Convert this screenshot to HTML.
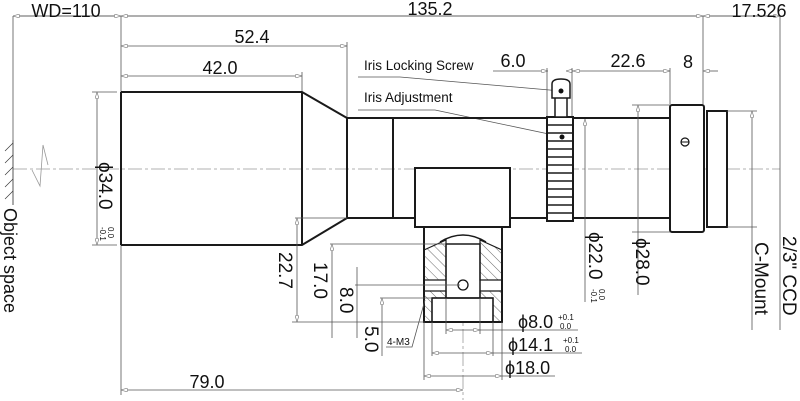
<!DOCTYPE html>
<html><head><meta charset="utf-8"><style>
html,body{margin:0;padding:0;background:#fff}
svg{display:block}
text{font-family:"Liberation Sans","DejaVu Sans",sans-serif;fill:#111}
.k{stroke:#1a1a1a;stroke-width:2;fill:none}
.t{stroke:#555;stroke-width:0.8;fill:none}
.c{stroke:#999;stroke-width:0.8;fill:none;stroke-dasharray:14 3 3 3}
.h{stroke:#333;stroke-width:0.6}
</style></head><body>
<svg width="800" height="401" viewBox="0 0 800 401" xmlns="http://www.w3.org/2000/svg">
<defs><marker id="a" viewBox="0 0 10 6" refX="10" refY="3" markerWidth="8" markerHeight="5" orient="auto-start-reverse"><path d="M0,0L10,3L0,6z" fill="#fff" stroke="#777" stroke-width="1"/></marker></defs>
<line class="c" x1="13" y1="169" x2="780" y2="169"/>
<line class="c" x1="463" y1="168" x2="463" y2="400"/>
<line class="c" x1="685" y1="125" x2="685" y2="160"/>
<line class="t" x1="13" y1="16" x2="780" y2="16"/>
<line class="t" x1="13" y1="16" x2="121" y2="16" marker-start="url(#a)" marker-end="url(#a)"/>
<line class="t" x1="121" y1="16" x2="703" y2="16" marker-start="url(#a)" marker-end="url(#a)"/>
<line class="t" x1="703" y1="16" x2="780" y2="16" marker-start="url(#a)" marker-end="url(#a)"/>
<line class="t" x1="13" y1="16" x2="13" y2="150"/>
<line class="t" x1="121" y1="16" x2="121" y2="395"/>
<line class="t" x1="703" y1="16" x2="703" y2="104"/>
<line class="t" x1="780" y1="16" x2="780" y2="330"/>
<text x="66" y="17" font-size="18" text-anchor="middle">WD=110</text>
<text x="430" y="15" font-size="18" text-anchor="middle">135.2</text>
<text x="759" y="17" font-size="18" text-anchor="middle">17.526</text>
<line class="t" x1="121" y1="46" x2="347" y2="46" marker-start="url(#a)" marker-end="url(#a)"/>
<line class="t" x1="347" y1="42" x2="347" y2="118"/>
<text x="252" y="43" font-size="18" text-anchor="middle">52.4</text>
<line class="t" x1="121" y1="76" x2="302" y2="76" marker-start="url(#a)" marker-end="url(#a)"/>
<line class="t" x1="302" y1="72" x2="302" y2="92"/>
<text x="220" y="74" font-size="18" text-anchor="middle">42.0</text>
<line class="t" x1="493" y1="71" x2="548" y2="71" marker-end="url(#a)"/>
<line class="t" x1="566" y1="71" x2="573" y2="71" marker-start="url(#a)"/>
<line class="t" x1="573" y1="71" x2="670" y2="71" marker-start="url(#a)" marker-end="url(#a)"/>
<line class="t" x1="703" y1="71" x2="718" y2="71" marker-start="url(#a)"/>
<line class="t" x1="547" y1="68" x2="547" y2="117"/>
<line class="t" x1="572" y1="68" x2="572" y2="117"/>
<line class="t" x1="670" y1="68" x2="670" y2="104"/>
<text x="513" y="67" font-size="18" text-anchor="middle">6.0</text>
<text x="628" y="67" font-size="18" text-anchor="middle">22.6</text>
<text x="688" y="68" font-size="18" text-anchor="middle">8</text>
<text x="364" y="70" font-size="13.5">Iris Locking Screw</text>
<polyline class="t" points="358,77 400,77 561,91"/>
<text x="364" y="102" font-size="13.5">Iris Adjustment</text>
<polyline class="t" points="358,110 435,110 563,137"/>
<line x1="13" y1="140" x2="13" y2="205" stroke="#555" stroke-width="1"/>
<g class="h"><line x1="13" y1="143" x2="5" y2="151"/><line x1="13" y1="155" x2="5" y2="163"/><line x1="13" y1="167" x2="5" y2="175"/><line x1="13" y1="179" x2="5" y2="187"/><line x1="13" y1="191" x2="5" y2="199"/></g>
<polyline points="32,170 40,186 43,145 48,165" fill="none" stroke="#999" stroke-width="0.8"/>
<text transform="translate(4,208) rotate(90)" font-size="18">Object space</text>
<polyline class="k" points="121,92 302,92 347,118 670,118"/>
<polyline class="k" points="121,245 302,245 347,218 670,218"/>
<line class="k" x1="121" y1="92" x2="121" y2="245"/>
<line class="k" x1="302" y1="92" x2="302" y2="245"/>
<line class="k" x1="347" y1="118" x2="347" y2="218"/>
<line class="k" x1="393" y1="118" x2="393" y2="218" stroke-width="1.5"/>
<line class="t" x1="92" y1="92" x2="117" y2="92"/>
<line class="t" x1="92" y1="245" x2="117" y2="245"/>
<line class="t" x1="97" y1="92" x2="97" y2="245" marker-start="url(#a)" marker-end="url(#a)"/>
<text transform="translate(99,162) rotate(90)" font-size="19">ϕ34.0</text>
<text transform="translate(100,227) rotate(90)" font-size="8">-0.1</text>
<text transform="translate(108,227) rotate(90)" font-size="8">0.0</text>
<rect x="547" y="117" width="26" height="104" fill="#fff" stroke="#1a1a1a" stroke-width="2"/>
<g stroke="#1a1a1a" stroke-width="1.5">
<line x1="547" y1="125" x2="573" y2="125"/><line x1="547" y1="133" x2="573" y2="133"/><line x1="547" y1="141" x2="573" y2="141"/><line x1="547" y1="149" x2="573" y2="149"/><line x1="547" y1="157" x2="573" y2="157"/><line x1="547" y1="165" x2="573" y2="165"/><line x1="547" y1="173" x2="573" y2="173"/><line x1="547" y1="181" x2="573" y2="181"/><line x1="547" y1="189" x2="573" y2="189"/><line x1="547" y1="197" x2="573" y2="197"/><line x1="547" y1="205" x2="573" y2="205"/><line x1="547" y1="213" x2="573" y2="213"/></g>
<circle cx="562" cy="137" r="2.5" fill="#111"/>
<rect x="555" y="97" width="12" height="20" fill="#fff" stroke="#1a1a1a" stroke-width="1.5"/>
<path d="M552,98 L552,84 Q552,79 561,79 Q570,79 570,84 L570,98 Z" fill="#fff" stroke="#1a1a1a" stroke-width="1.5"/>
<circle cx="561" cy="91" r="2.5" fill="#111"/>
<rect x="670" y="105" width="34" height="127" rx="2" fill="#fff" stroke="#1a1a1a" stroke-width="2"/>
<rect x="707" y="111" width="20" height="116" fill="#fff" stroke="#1a1a1a" stroke-width="2"/>
<circle cx="685" cy="142" r="4" fill="none" stroke="#111" stroke-width="1.2"/><line x1="681" y1="142" x2="689" y2="142" stroke="#111"/>
<rect x="415" y="168" width="95" height="59" fill="#fff" stroke="#1a1a1a" stroke-width="2"/>
<rect x="424" y="227" width="78" height="95" fill="#fff" stroke="#1a1a1a" stroke-width="2"/>
<defs><pattern id="hp" width="7" height="7" patternUnits="userSpaceOnUse" patternTransform="rotate(-45)"><line x1="0" y1="0" x2="0" y2="7" stroke="#444" stroke-width="0.8"/></pattern></defs>
<path d="M424,250 L446,240 L446,280 L424,280Z" fill="url(#hp)" stroke="#1a1a1a" stroke-width="1.2"/>
<path d="M480,240 L502,250 L502,280 L480,280Z" fill="url(#hp)" stroke="#1a1a1a" stroke-width="1.2"/>
<path d="M424,291 L446,291 L446,298 L432,298 L432,322 L424,322Z" fill="url(#hp)" stroke="#1a1a1a" stroke-width="1.2"/>
<path d="M480,291 L502,291 L502,322 L493,322 L493,298 L480,298Z" fill="url(#hp)" stroke="#1a1a1a" stroke-width="1.2"/>
<path d="M440,242 Q463,228 486,242" fill="none" stroke="#1a1a1a" stroke-width="1.5"/>
<rect x="446" y="244" width="34" height="54" fill="none" stroke="#1a1a1a" stroke-width="1.5"/>
<rect x="432" y="298" width="61" height="24" fill="none" stroke="#1a1a1a" stroke-width="1.5"/>
<circle cx="463" cy="285" r="5" fill="none" stroke="#111" stroke-width="1.3"/>
<line class="t" x1="295" y1="218" x2="347" y2="218"/>
<line class="t" x1="297" y1="218" x2="297" y2="322" marker-start="url(#a)" marker-end="url(#a)"/>
<line class="t" x1="292" y1="322" x2="424" y2="322"/>
<text transform="translate(279,252) rotate(90)" font-size="19">22.7</text>
<line class="t" x1="330" y1="244" x2="446" y2="244"/>
<line class="t" x1="332" y1="244" x2="332" y2="338" marker-start="url(#a)"/>
<text transform="translate(314,262) rotate(90)" font-size="19">17.0</text>
<line class="t" x1="355" y1="285" x2="460" y2="285"/>
<line class="t" x1="357" y1="267" x2="357" y2="338"/>
<text transform="translate(340,287) rotate(90)" font-size="19">8.0</text>
<line class="t" x1="380" y1="298" x2="432" y2="298"/>
<line class="t" x1="382" y1="298" x2="382" y2="356" marker-start="url(#a)"/>
<text transform="translate(365,326) rotate(90)" font-size="19">5.0</text>
<text x="387" y="345" font-size="10">4-M3</text>
<polyline class="t" points="386,347 412,347 425,300"/>
<line class="t" x1="446" y1="298" x2="446" y2="334"/><line class="t" x1="480" y1="298" x2="480" y2="334"/>
<line class="t" x1="446" y1="330" x2="480" y2="330" marker-start="url(#a)" marker-end="url(#a)"/>
<line class="t" x1="480" y1="330" x2="578" y2="330"/>
<text x="518" y="328" font-size="18">ϕ8.0</text><text x="558" y="320" font-size="8">+0.1</text><text x="560" y="329" font-size="8">0.0</text>
<line class="t" x1="432" y1="322" x2="432" y2="356"/><line class="t" x1="493" y1="322" x2="493" y2="356"/>
<line class="t" x1="432" y1="353" x2="493" y2="353" marker-start="url(#a)" marker-end="url(#a)"/>
<line class="t" x1="493" y1="353" x2="582" y2="353"/>
<text x="508" y="351" font-size="18">ϕ14.1</text><text x="563" y="343" font-size="8">+0.1</text><text x="565" y="352" font-size="8">0.0</text>
<line class="t" x1="424" y1="322" x2="424" y2="380"/><line class="t" x1="502" y1="322" x2="502" y2="380"/>
<line class="t" x1="424" y1="376" x2="502" y2="376" marker-start="url(#a)" marker-end="url(#a)"/>
<line class="t" x1="502" y1="376" x2="555" y2="376"/>
<text x="505" y="374" font-size="18">ϕ18.0</text>
<line class="t" x1="121" y1="390" x2="463" y2="390" marker-start="url(#a)" marker-end="url(#a)"/>
<text x="207" y="388" font-size="18" text-anchor="middle">79.0</text>
<line class="t" x1="585" y1="119" x2="585" y2="302" marker-start="url(#a)"/>
<text transform="translate(589,232) rotate(90)" font-size="19">ϕ22.0</text>
<text transform="translate(591,289) rotate(90)" font-size="8">-0.1</text>
<text transform="translate(599,289) rotate(90)" font-size="8">0.0</text>
<line class="t" x1="632" y1="105" x2="670" y2="105"/><line class="t" x1="632" y1="232" x2="670" y2="232"/>
<line class="t" x1="638" y1="105" x2="638" y2="295" marker-start="url(#a)"/>
<text transform="translate(636,238) rotate(90)" font-size="19">ϕ28.0</text>
<line class="t" x1="727" y1="111" x2="757" y2="111"/><line class="t" x1="727" y1="227" x2="757" y2="227"/>
<line class="t" x1="752" y1="111" x2="752" y2="330" marker-start="url(#a)"/>
<text transform="translate(755,242) rotate(90)" font-size="19">C-Mount</text>
<text transform="translate(783,236) rotate(90)" font-size="19">2/3" CCD</text>
</svg>
</body></html>
